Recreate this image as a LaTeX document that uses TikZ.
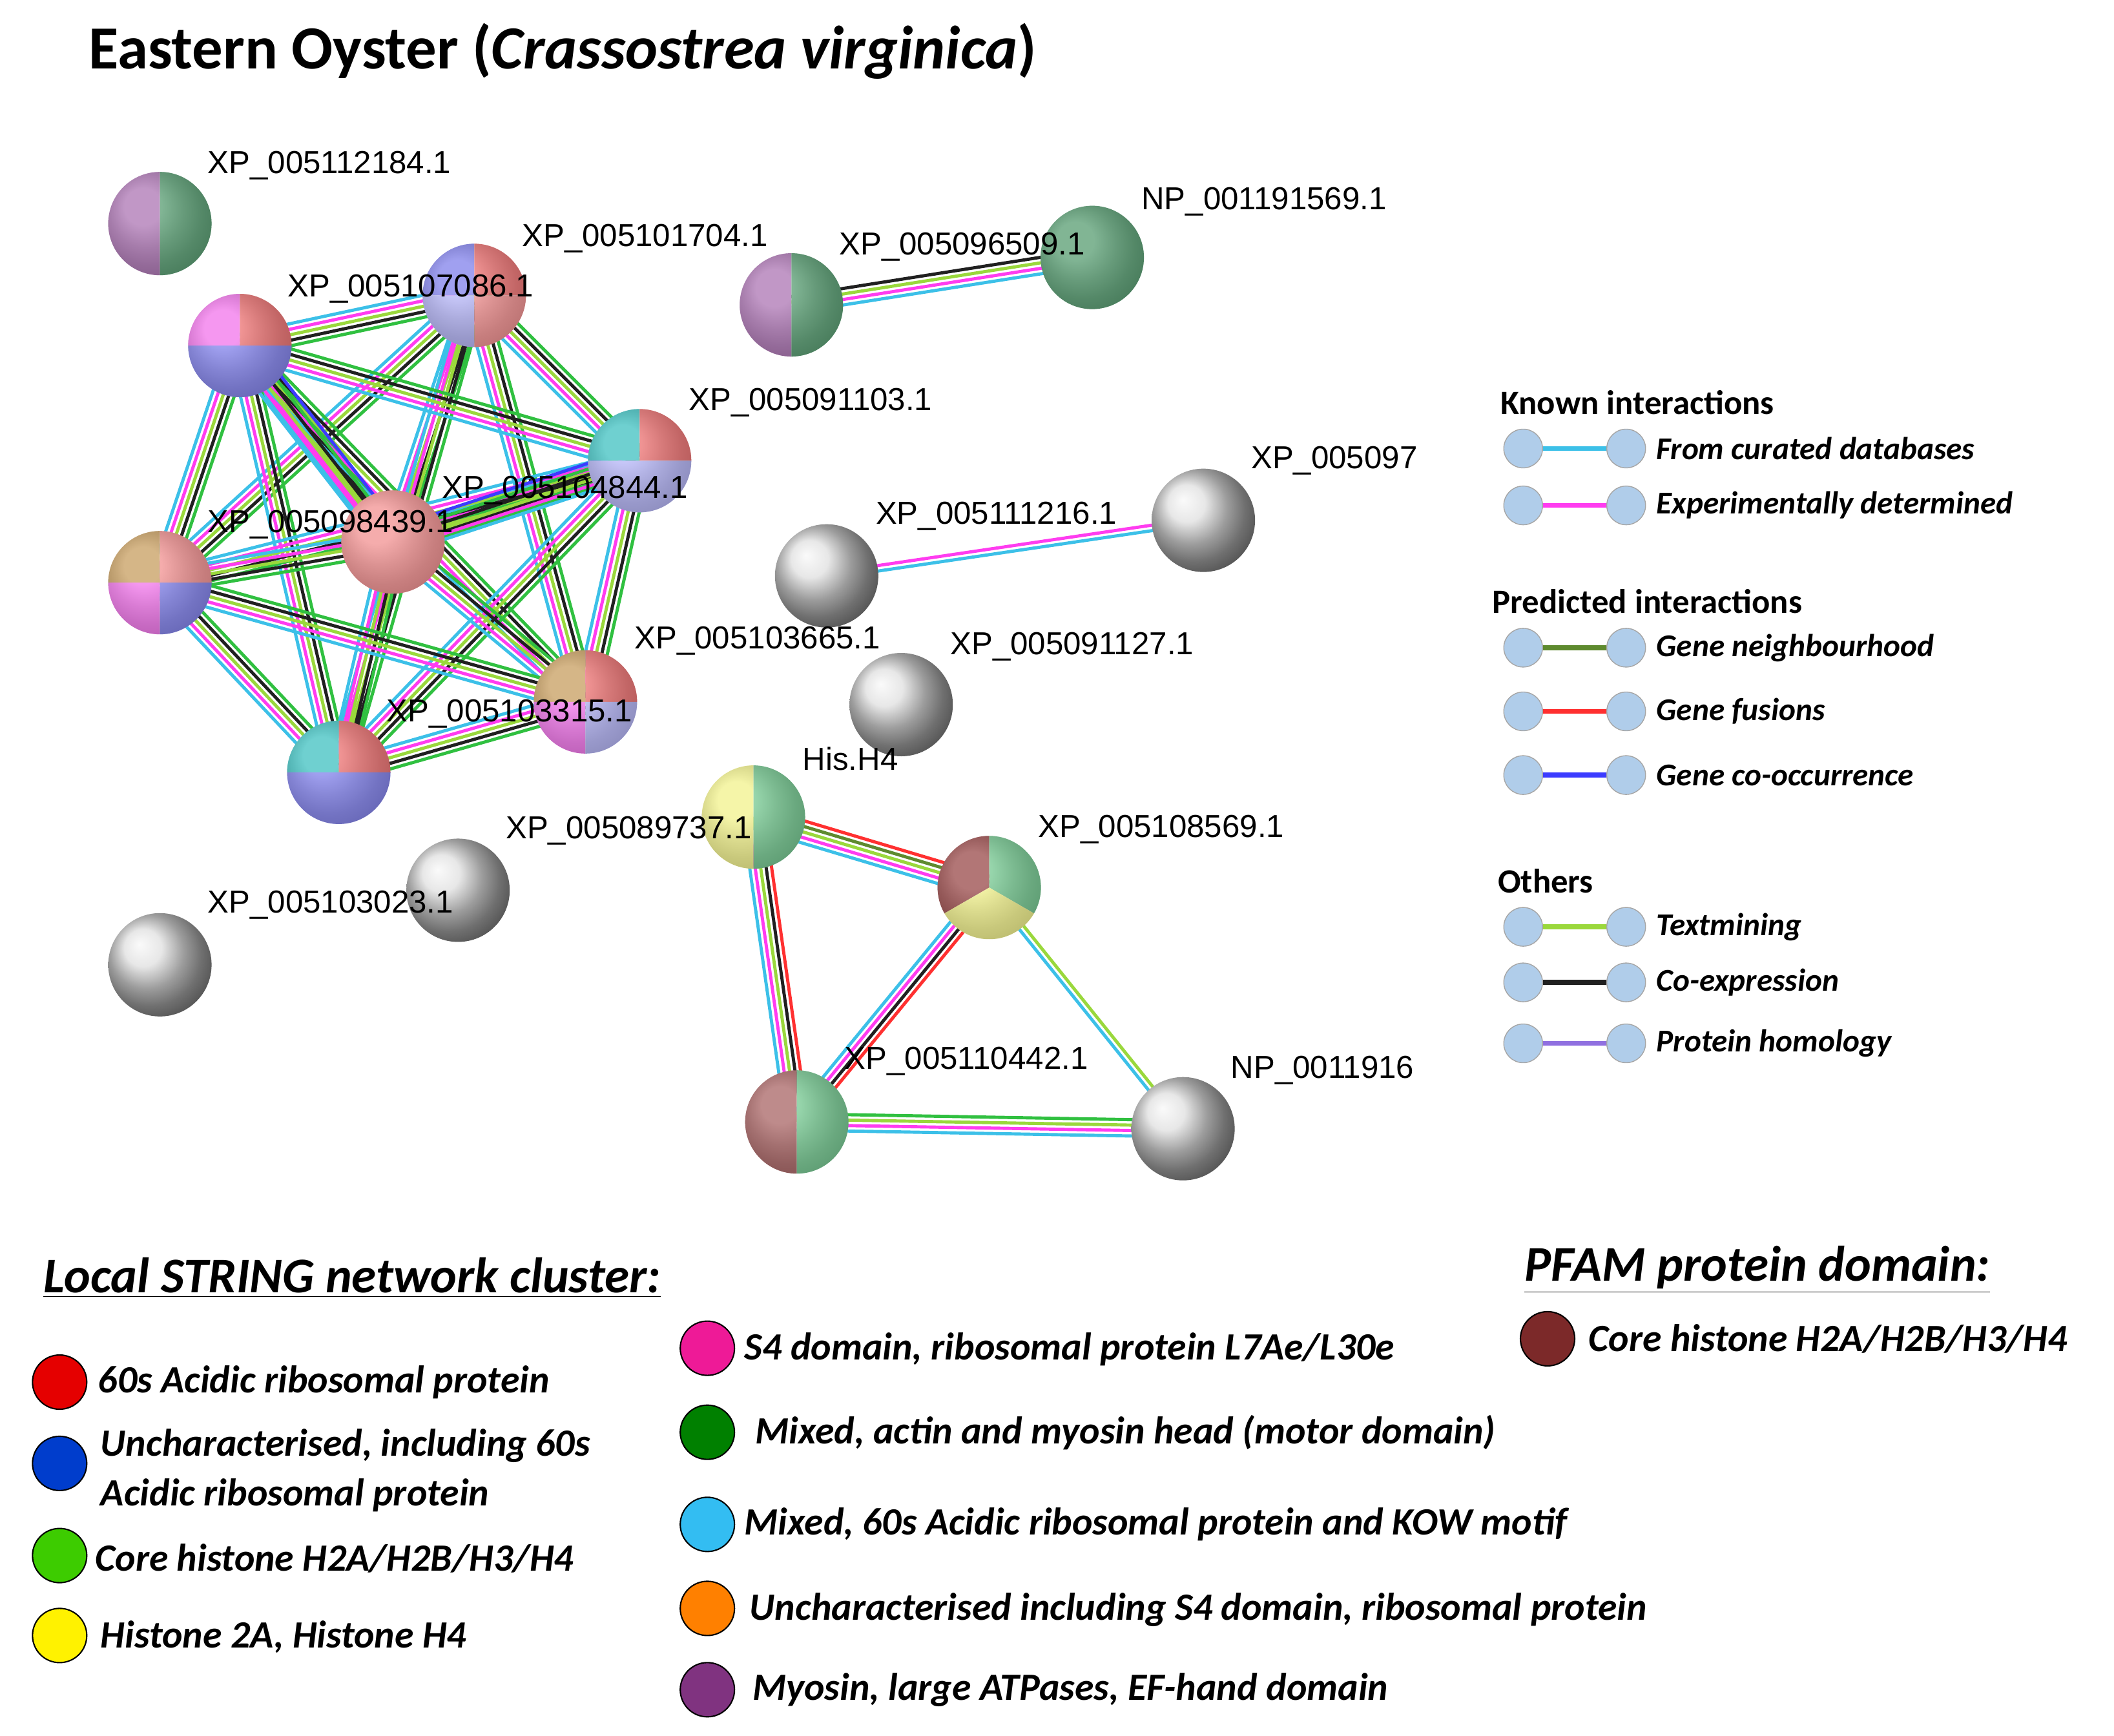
\documentclass[tikz,border=0pt]{standalone}
\usepackage{fontspec}
\setmainfont{Liberation Sans}
\newfontfamily\legfont{Carlito}
\usetikzlibrary{calc,backgrounds}
\definecolor{ecy}{HTML}{3CC0E8}
\definecolor{emg}{HTML}{FF3CF0}
\definecolor{etm}{HTML}{9AD83C}
\definecolor{ebk}{HTML}{202020}
\definecolor{ebl}{HTML}{3C3CFF}
\definecolor{eol}{HTML}{5E8A2E}
\definecolor{erd}{HTML}{FF3030}
\definecolor{egr}{HTML}{30C040}
\definecolor{eho}{HTML}{9070E0}
\definecolor{cpu}{HTML}{A060A8}
\definecolor{cgn}{HTML}{3E8E5C}
\definecolor{cbl}{HTML}{6E6EE8}
\definecolor{clv}{HTML}{A8A8F4}
\definecolor{crd}{HTML}{E85A5A}
\definecolor{csa}{HTML}{F08080}
\definecolor{cmg}{HTML}{F060E8}
\definecolor{ccy}{HTML}{22B8B8}
\definecolor{cbr}{HTML}{C09048}
\definecolor{cye}{HTML}{F0F07A}
\definecolor{chg}{HTML}{60C080}
\definecolor{cdb}{HTML}{8A2E2E}
\definecolor{knob}{HTML}{B0CDEA}
\newcommand{\sect}[4]{\fill[#4] (#1.center) -- ++(#2:0.8cm) arc[start angle=#2,end angle=#3,radius=0.8cm] -- cycle;}
\newcommand{\gloss}[1]{\shade[ball color=white,opacity=0.35] (#1.center) circle (0.8cm);}
\newcommand{\greyball}[1]{\shade[ball color=gray!25] (#1.center) circle (0.8cm);}
\newcommand{\link}[4]{%
  \foreach \c [count=\i] in {#4}{%
    \pgfmathsetmacro\o{(\i-(#3+1)/2)*2.4}
    \draw[\c,line width=1.4pt] ($(#1)!\o pt!90:(#2)$) -- ($(#2)!\o pt!-90:(#1)$);}}
\tikzset{
  protein/.style={circle,minimum size=1.6cm,inner sep=0pt},
  plabel/.style={anchor=west,font=\fontsize{14}{16}\selectfont,inner sep=0pt},
  knobs/.style={circle,draw=gray!70,fill=knob,minimum size=0.6cm,inner sep=0pt},
  ltitle/.style={anchor=west,font=\legfont\bfseries\fontsize{15}{17}\selectfont,inner sep=0pt},
  litem/.style={anchor=west,font=\legfont\bfseries\itshape\fontsize{14}{16}\selectfont,inner sep=0pt},
  btitle/.style={anchor=west,font=\legfont\bfseries\itshape\fontsize{22}{24}\selectfont,inner sep=1pt},
  bitem/.style={anchor=west,font=\legfont\bfseries\itshape\fontsize{17}{22}\selectfont,inner sep=0pt,align=left},
  dot/.style={circle,draw=black,line width=0.6pt,minimum size=0.84cm,inner sep=0pt}
}
\begin{document}
\begin{tikzpicture}[x=0.02098cm,y=-0.02098cm]
\useasboundingbox (0,0) rectangle (1560,1281);
\node[anchor=west,inner sep=0pt,font=\legfont\bfseries\fontsize{27}{30}\selectfont] (title) at (65,38) {Eastern Oyster (\textit{Crassostrea  virginica})};
% proteins
\node[protein] (p184) at (118,165) {};
\node[protein] (p704) at (350,218) {};
\node[protein] (p086) at (177,255) {};
\node[protein] (p103) at (472,340) {};
\node[protein] (p844) at (290,400) {};
\node[protein] (p439) at (118,430) {};
\node[protein] (p665) at (432,518) {};
\node[protein] (p315) at (250,570) {};
\node[protein] (p509) at (584,225) {};
\node[protein] (p569) at (806,190) {};
\node[protein] (p216) at (610,425) {};
\node[protein] (p097) at (888,384) {};
\node[protein] (p127) at (665,520) {};
\node[protein] (p737) at (338,657) {};
\node[protein] (p023) at (118,712) {};
\node[protein] (hh4) at (556,603) {};
\node[protein] (p108) at (730,655) {};
\node[protein] (p442) at (588,828) {};
\node[protein] (np16) at (873,833) {};
% connectors
\begin{scope}[on background layer]
\foreach \a/\b in {p704/p086,p704/p103,p704/p844,p704/p439,p704/p665,p704/p315,
  p086/p103,p086/p844,p086/p439,p086/p665,p086/p315,p103/p844,p103/p439,p103/p665,
  p103/p315,p844/p439,p844/p665,p844/p315,p439/p665,p439/p315,p665/p315}
  {\link{\a}{\b}{5}{ecy,emg,etm,ebk,egr}}
\link{p086}{p844}{6}{ecy,emg,etm,ebk,egr,ebl}
\link{p844}{p103}{6}{ecy,emg,etm,ebk,egr,ebl}
\link{p509}{p569}{4}{ecy,emg,etm,ebk}
\link{p216}{p097}{2}{ecy,emg}
\link{hh4}{p108}{5}{ecy,emg,etm,eol,erd}
\link{hh4}{p442}{5}{ecy,emg,etm,ebk,erd}
\link{p108}{p442}{4}{ecy,emg,ebk,erd}
\link{p108}{np16}{2}{ecy,etm}
\link{p442}{np16}{4}{ecy,emg,etm,egr}
\end{scope}
% node colours
\sect{p184}{90}{270}{cpu}\sect{p184}{-90}{90}{cgn}\gloss{p184}
\sect{p704}{90}{180}{cbl}\sect{p704}{0}{90}{crd}\sect{p704}{180}{270}{clv}\sect{p704}{270}{360}{csa}\gloss{p704}
\sect{p086}{90}{180}{cmg}\sect{p086}{0}{90}{crd}\sect{p086}{180}{360}{cbl}\gloss{p086}
\sect{p103}{90}{180}{ccy}\sect{p103}{0}{90}{crd}\sect{p103}{180}{360}{clv}\gloss{p103}
\sect{p844}{0}{360}{csa}\gloss{p844}
\sect{p439}{90}{180}{cbr}\sect{p439}{0}{90}{csa}\sect{p439}{180}{270}{cmg}\sect{p439}{270}{360}{cbl}\gloss{p439}
\sect{p665}{90}{180}{cbr}\sect{p665}{0}{90}{crd}\sect{p665}{180}{270}{cmg}\sect{p665}{270}{360}{clv}\gloss{p665}
\sect{p315}{90}{180}{ccy}\sect{p315}{0}{90}{crd}\sect{p315}{180}{360}{cbl}\gloss{p315}
\sect{p509}{90}{270}{cpu}\sect{p509}{-90}{90}{cgn}\gloss{p509}
\sect{p569}{0}{360}{cgn}\gloss{p569}
\greyball{p216}\greyball{p097}\greyball{p127}\greyball{p737}\greyball{p023}\greyball{np16}
\sect{hh4}{90}{270}{cye}\sect{hh4}{-90}{90}{chg}\gloss{hh4}
\sect{p108}{90}{210}{cdb}\sect{p108}{-30}{90}{chg}\sect{p108}{210}{330}{cye}\gloss{p108}
\sect{p442}{90}{270}{cdb!85}\sect{p442}{-90}{90}{chg}\gloss{p442}
% labels
\node[plabel] (l184) at (153,122) {XP\_005112184.1};
\node[plabel] (l704) at (385,176) {XP\_005101704.1};
\node[plabel] (l086) at (212,213) {XP\_005107086.1};
\node[plabel] (l103) at (508,297) {XP\_005091103.1};
\node[plabel] (l844) at (326,362) {XP\_005104844.1};
\node[plabel] (l439) at (153,387) {XP\_005098439.1};
\node[plabel] (l665) at (468,473) {XP\_005103665.1};
\node[plabel] (l315) at (285,527) {XP\_005103315.1};
\node[plabel] (l509) at (619,182) {XP\_005096509.1};
\node[plabel] (l569) at (842,149) {NP\_001191569.1};
\node[plabel] (l216) at (646,381) {XP\_005111216.1};
\node[plabel] (l097) at (923,340) {XP\_005097};
\node[plabel] (l127) at (701,477) {XP\_005091127.1};
\node[plabel] (l737) at (373,613) {XP\_005089737.1};
\node[plabel] (l023) at (153,668) {XP\_005103023.1};
\node[plabel] (lhh4) at (592,560) {His.H4};
\node[plabel] (l108) at (766,612) {XP\_005108569.1};
\node[plabel] (l442) at (623,783) {XP\_005110442.1};
\node[plabel] (lnp16) at (908,790) {NP\_0011916};
% interaction legend
\node[ltitle] (known) at (1107,297) {Known interactions};
\node[ltitle] (pred) at (1101,444) {Predicted interactions};
\node[ltitle] (oth) at (1105,650) {Others};
\foreach \y/\col/\txt [count=\k] in {331/ecy/From curated databases,373/emg/Experimentally  determined,
  478/eol/Gene neighbourhood,525/erd/Gene fusions,572/ebl/Gene co-occurrence,
  684/etm/Textmining,725/ebk/Co-expression,770/eho/Protein homology}{
  \node[knobs] (ka\k) at (1124,\y) {};
  \node[knobs] (kb\k) at (1200,\y) {};
  \draw[\col,line width=2.2pt] (ka\k) -- (kb\k);
  \node[litem] (kt\k) at (1222,\y) {\txt};
}
% cluster legend
\node[btitle] (ctitle) at (30,943) {\underline{Local STRING network cluster:}};
\node[btitle] (ftitle) at (1123,937) {\underline{PFAM protein domain:}};
\node[dot,fill=red!90!black] (d1) at (44,1020) {};
\node[bitem] (t1) at (72,1020) {60s Acidic ribosomal  protein};
\node[dot,fill=blue!70!cyan!80!black] (d2) at (44,1080) {};
\node[bitem] (t2) at (74,1085) {Uncharacterised, including  60s\\Acidic ribosomal  protein};
\node[dot,fill=green!60!lime!80!black] (d3) at (44,1148) {};
\node[bitem] (t3) at (70,1150) {Core histone H2A/H2B/H3/H4};
\node[dot,fill=yellow] (d4) at (44,1207) {};
\node[bitem] (t4) at (74,1208) {Histone 2A,  Histone H4};
\node[dot,fill=magenta!90] (d5) at (522,995) {};
\node[bitem] (t5) at (549,996) {S4 domain,  ribosomal  protein L7Ae/L30e};
\node[dot,fill=green!50!black] (d6) at (522,1057) {};
\node[bitem] (t6) at (557,1057) {Mixed,  actin and myosin head (motor domain)};
\node[dot,fill=cyan!80] (d7) at (522,1125) {};
\node[bitem] (t7) at (549,1125) {Mixed,  60s Acidic ribosomal protein and KOW motif};
\node[dot,fill=orange] (d8) at (522,1187) {};
\node[bitem] (t8) at (553,1188) {Uncharacterised including  S4 domain,  ribosomal protein};
\node[dot,fill=violet!60!gray] (d9) at (522,1247) {};
\node[bitem] (t9) at (555,1247) {Myosin,  large ATPases,  EF-hand  domain};
\node[dot,fill=cdb!90!black] (d10) at (1142,988) {};
\node[bitem] (t10) at (1172,988) {Core histone H2A/H2B/H3/H4};
\end{tikzpicture}
\end{document}
